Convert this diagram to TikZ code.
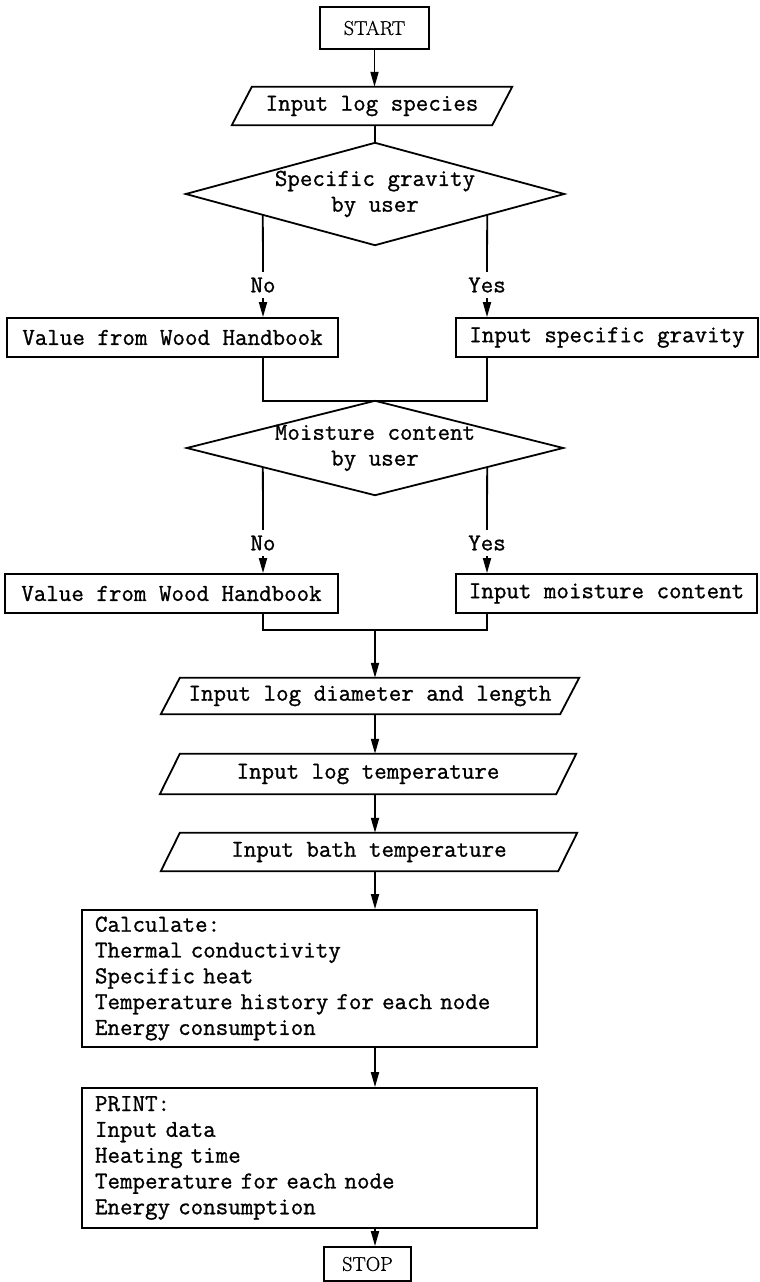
\documentclass[tikz,border=0pt]{standalone}
\usepackage{fontspec}
\newfontfamily\heavytt[FakeBold=1]{Latin Modern Mono}
\newfontfamily\heavyrm[FakeBold=0.8]{Latin Modern Roman}
\usetikzlibrary{arrows.meta,calc}
\newcommand\tfont{\fontsize{24.3}{25.8}\selectfont\heavytt}
\newcommand\rfont{\fontsize{20}{22}\selectfont\heavyrm}
\tikzset{
  ln/.style={line width=1.8pt},
  arr/.style={ln, -{Triangle[length=15pt,width=8pt]}},
  pbox/.style={draw, ln, inner sep=0pt, font=\tfont},
  term/.style={draw, ln, inner sep=0pt, font=\rfont},
  lbl/.style={inner sep=0pt, minimum height=26pt, font=\tfont},
  shp/.style={inner sep=0pt, font=\tfont, align=center},
  lbox/.style={draw, ln, inner sep=0pt, font=\tfont, align=left, text width=429pt, minimum width=455pt},
}
\begin{document}
\begin{tikzpicture}[x=1pt,y=-1pt]
\useasboundingbox (0,0) rectangle (760,1282);

% START
\node[term, minimum width=109pt, minimum height=42pt] (start) at (374.5,28) {START};

% Input log species
\node[shp, minimum width=280pt, minimum height=38pt] (p1) at (372,106) {Input log species};
\draw[ln] ($(p1.north west)+(20,0)$) -- (p1.north east) -- ($(p1.south east)+(-20,0)$) -- (p1.south west) -- cycle;
\draw[arr] (start.south) -- (start.south |- p1.north);

% Diamond 1
\node[shp, minimum width=378pt, minimum height=102pt] (d1) at (375,194) {Specific gravity\\by user};
\draw[ln] (d1.north) -- (d1.east) -- (d1.south) -- (d1.west) -- cycle;
\draw[ln] (d1.north |- p1.south) -- (d1.north);
\coordinate (d1l) at ($(d1.south)!0.593!(d1.west)$);
\coordinate (d1r) at ($(d1.south)!0.593!(d1.east)$);

\node[lbl] (no1) at (263,285) {No};
\node[lbl] (yes1) at (487,285) {Yes};
\draw[ln] (d1l) -- (no1.north);
\draw[ln] (d1r) -- (yes1.north);

\node[pbox, minimum width=331pt, minimum height=39pt] (vb1) at (172.5,337.5) {Value from Wood Handbook};
\node[pbox, minimum width=302pt, minimum height=39pt] (isg) at (607,337.5) {Input specific gravity};
\draw[arr] (no1.south) -- (no1.south |- vb1.north);
\draw[arr] (yes1.south) -- (yes1.south |- isg.north);

% Diamond 2
\node[shp, minimum width=376pt, minimum height=94pt] (d2) at (375,448) {Moisture content\\by user};
\draw[ln] (d2.north) -- (d2.east) -- (d2.south) -- (d2.west) -- cycle;
\draw[ln] (vb1.south -| no1) -- (no1 |- d2.north) -- (yes1 |- d2.north) -- (isg.south -| yes1);
\coordinate (d2l) at ($(d2.south)!0.596!(d2.west)$);
\coordinate (d2r) at ($(d2.south)!0.596!(d2.east)$);

\node[lbl] (no2) at (263,543) {No};
\node[lbl] (yes2) at (487,543) {Yes};
\draw[ln] (d2l) -- (no2.north);
\draw[ln] (d2r) -- (yes2.north);

\node[pbox, minimum width=333pt, minimum height=39pt] (vb2) at (171.5,593.5) {Value from Wood Handbook};
\node[pbox, minimum width=301pt, minimum height=39pt] (mc) at (606.5,593.5) {Input moisture content};
\draw[arr] (no2.south) -- (no2.south |- vb2.north);
\draw[arr] (yes2.south) -- (yes2.south |- mc.north);

\coordinate (m) at (375,630);
\draw[ln] (vb2.south -| no2) -- (no2 |- m) -- (yes2 |- m) -- (mc.south -| yes2);

% Parallelograms
\node[shp, minimum width=418pt, minimum height=36pt] (p2) at (370,696) {Input log diameter and length};
\draw[ln] ($(p2.north west)+(19,0)$) -- (p2.north east) -- ($(p2.south east)+(-19,0)$) -- (p2.south west) -- cycle;
\node[shp, minimum width=416pt, minimum height=40pt] (p3) at (368,774) {Input log temperature};
\draw[ln] ($(p3.north west)+(20,0)$) -- (p3.north east) -- ($(p3.south east)+(-20,0)$) -- (p3.south west) -- cycle;
\node[shp, minimum width=416pt, minimum height=38pt] (p4) at (369,852) {Input bath temperature};
\draw[ln] ($(p4.north west)+(19,0)$) -- (p4.north east) -- ($(p4.south east)+(-19,0)$) -- (p4.south west) -- cycle;

\draw[arr] (m) -- (m |- p2.north);
\draw[arr] (m |- p2.south) -- (m |- p3.north);
\draw[arr] (m |- p3.south) -- (m |- p4.north);

% Calculate
\node[lbox, minimum height=137pt] (calc) at (309.5,978.5) {Calculate:\\Thermal conductivity\\Specific heat\\Temperature history for each node\\Energy consumption};
\draw[arr] (m |- p4.south) -- (m |- calc.north);

% PRINT
\node[lbox, minimum height=140pt] (print) at (309.5,1158) {PRINT:\\Input data\\Heating time\\Temperature for each node\\Energy consumption};
\draw[arr] (m |- calc.south) -- (m |- print.north);

% STOP
\node[term, minimum width=87pt, minimum height=34pt] (stop) at (367.5,1264) {STOP};
\draw[arr] (m |- print.south) -- (m |- stop.north);
\end{tikzpicture}
\end{document}
